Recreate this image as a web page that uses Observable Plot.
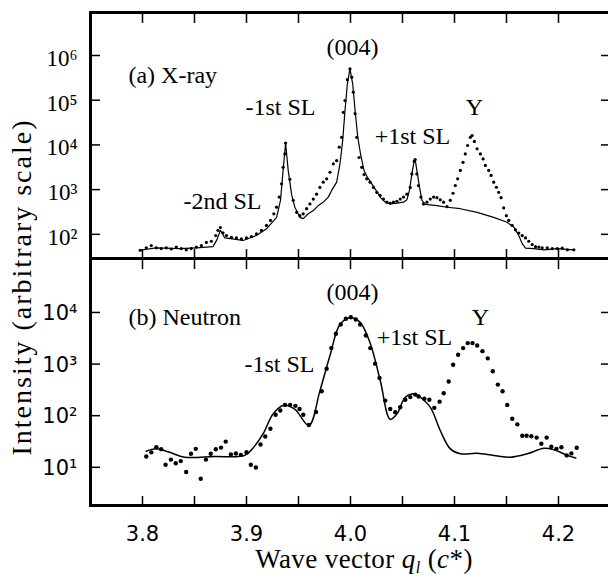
<!DOCTYPE html>
<html>
<head>
<meta charset="utf-8">
<script src="https://cdn.jsdelivr.net/npm/d3@7"></script>
<script src="https://cdn.jsdelivr.net/npm/@observablehq/plot@0.6"></script>
<style>
  html, body { margin: 0; padding: 0; background: #fff; overflow: hidden; }
  #wrap { position: relative; width: 608px; height: 582px; }
  #wrap svg { position: absolute; left: 0; top: 0; overflow: visible; }
  .ytitle { position: absolute; left: 22px; top: 287px; transform: translate(-50%, -50%) rotate(-90deg);
            font-family: "Liberation Serif", "Times New Roman", "DejaVu Serif", serif; font-size: 28px; line-height: 1;
            letter-spacing: 2px; white-space: nowrap; color: #000; }
  .xtitle { position: absolute; left: 364px; top: 546px; transform: translateX(-50%);
            font-family: "Liberation Serif", "Times New Roman", "DejaVu Serif", serif; font-size: 27px; line-height: 1;
            letter-spacing: 0.4px; white-space: nowrap; color: #000; }
  .xtitle sub { font-size: 16px; vertical-align: -5px; }
</style>
</head>
<body>
<div id="wrap"></div>
<script>
// ---------- data ----------
// (a) X-ray: measured points
const xrayQ = [3.7978,3.8036,3.8084,3.8132,3.818,3.8229,3.8277,3.8325,3.8373,3.8421,
  3.8469,3.8518,3.8566,3.8614,3.8662,3.8704,3.8726,3.8749,3.8774,3.8807,
  3.8855,3.8903,3.8951,3.9,3.9048,3.9096,3.9144,3.9192,3.9231,3.9263,
  3.9289,3.9314,3.9337,3.9352,3.9369,3.9376,3.9417,3.9449,3.9482,3.9513,
  3.9545,3.9578,3.961,3.9642,3.9674,3.9706,3.9738,3.9771,3.9803,3.9835,
  3.9867,3.9892,3.9915,3.9931,3.9947,3.997,3.9995,4.0012,4.0027,4.0044,
  4.006,4.0082,4.0108,4.013,4.0156,4.0188,4.022,4.0253,4.0285,4.0317,
  4.0349,4.0381,4.0413,4.0446,4.0478,4.051,4.0542,4.0574,4.059,4.0613,
  4.0622,4.0638,4.0654,4.0677,4.0702,4.0735,4.0767,4.0799,4.0831,4.0863,
  4.0895,4.0928,4.096,4.0986,4.1008,4.103,4.1056,4.1082,4.1104,4.1126,
  4.1152,4.1169,4.1191,4.1217,4.1249,4.1275,4.1297,4.1329,4.1352,4.1377,
  4.1403,4.1425,4.1448,4.1473,4.1499,4.1522,4.1554,4.1586,4.1618,4.1651,
  4.1683,4.1714,4.1747,4.1779,4.1811,4.1843,4.1892,4.194,4.1988,4.2036,
  4.2085,4.2148];
const xrayI = [44,50,56,50,48,50,47,52,48,45,
  48,52,56,66,70,94,123,142,108,94,
  86,83,79,83,89,102,122,158,205,288,
  404,680,1350,3160,6300,11000,1700,575,310,262,
  288,374,478,615,790,1120,1470,1740,2450,3770,
  4450,8900,14800,53700,98000,288000,501000,327000,151000,50000,
  14800,5230,3160,2170,1740,1470,1120,870,740,615,
  525,500,525,550,615,680,790,1120,2240,4330,
  4700,2240,1230,680,478,525,615,680,660,590,
  525,415,575,830,1230,1740,2690,4070,6300,9700,
  14800,16200,12000,8170,6300,4860,3470,2690,2080,1470,
  1130,870,660,390,262,205,158,126,107,94,
  83,70,59,53,52,50,50,48,48,49,
  45,45];
// (a) X-ray: calculated curve
const xrayFitQ = [3.7971,3.8132,3.8357,3.8518,3.8678,3.8716,3.8749,3.8791,3.8967,3.9096,
  3.9192,3.9289,3.9327,3.9352,3.9376,3.9401,3.9433,3.9465,3.9513,3.9545,
  3.9594,3.9642,3.969,3.9738,3.9786,3.9819,3.9867,3.9899,3.9925,3.9947,
  3.997,3.9995,4.0021,4.0044,4.007,4.0099,4.013,4.0162,4.0205,4.0246,
  4.0285,4.0333,4.0381,4.0446,4.051,4.0542,4.0567,4.059,4.0613,4.0622,
  4.0638,4.0664,4.0687,4.0719,4.0831,4.0928,4.1056,4.1217,4.1377,4.1506,
  4.157,4.1618,4.1651,4.1683,4.1763,4.1859,4.1988,4.2148];
const xrayFitI = [44,50,48,50,53,76,123,83,73,94,
  133,240,575,2690,11000,2690,790,404,240,224,
  288,340,440,525,680,960,1470,3800,12600,59000,
  233000,500000,233000,59000,14800,5800,2690,1900,1350,960,
  680,525,480,500,525,590,960,2240,4450,4700,
  2690,1120,575,470,440,404,374,310,240,186,
  145,94,62,49,48,45,48,45];

// (b) Neutron: measured points
const neutronQ = [3.8036,3.8085,3.8133,3.818,3.8222,3.8273,3.832,3.8368,3.842,3.8466,
  3.8512,3.856,3.861,3.8656,3.8705,3.8755,3.880,3.885,3.8898,3.8946,
  3.900,3.9042,3.909,3.9135,3.918,3.923,3.928,3.9325,3.937,3.942,
  3.947,3.951,3.9546,3.960,3.9668,3.9723,3.977,3.9816,3.986,3.9906,
  3.9955,4.0003,4.0051,4.0093,4.0148,4.019,4.0237,4.0279,4.0334,4.0382,
  4.043,4.0478,4.0527,4.0575,4.0623,4.0655,4.071,4.0758,4.0806,4.0857,
  4.0896,4.0944,4.0987,4.1035,4.1083,4.1127,4.1173,4.1218,4.1269,4.132,
  4.1368,4.1417,4.1462,4.1507,4.1555,4.1604,4.1652,4.1693,4.1739,4.179,
  4.1835,4.1886,4.1931,4.198,4.2028,4.2079,4.2124,4.2175];
const neutronI = [16.2,19.5,24.5,22.5,11.2,14.1,12.0,13.2,8.1,18.3,
  22.8,6.0,14.1,18.3,22.4,24.1,31.5,17.7,18.5,17.4,
  19.6,11.2,9.9,27.6,39.5,55.7,104,126,162,162,
  155,135,104,66,118,298,813,2040,3870,5850,
  7550,8100,7320,5850,3580,2040,1020,540,196,135,
  117,146,203,229,256,235,213,204,142,187,
  273,460,970,1520,2040,2550,2550,2290,1780,1290,
  725,400,298,162,87,68,41,41,40,37.6,
  28.6,37.6,25,22.8,24.5,17,18.6,24];
// (b) Neutron: calculated curve
const neutronFitQ = [3.8036,3.8132,3.826,3.8405,3.869,3.8984,3.907,3.916,3.9257,3.936,
  3.9466,3.960,3.9707,3.9803,3.990,4.0003,4.0093,4.019,4.0286,4.0382,
  4.045,4.0527,4.0623,4.0671,4.0768,4.0864,4.096,4.1057,4.1218,4.1378,
  4.1539,4.17,4.186,4.1957,4.2086,4.2166];
const neutronFitI = [20.5,22.9,19.5,15.7,16.2,17.0,24.6,44.7,109,159,
  133,64.6,309,1470,5900,7900,6430,2510,480,85,
  111,228,264,228,145,51,22.8,18.3,18.7,17,
  15.7,18.3,23.4,21.8,17,15.2];

// axes
const xDomain = [3.75, 4.25];
const xTickValues = [3.8, 3.85, 3.9, 3.95, 4.0, 4.05, 4.1, 4.15, 4.2];
const xLabelValues = [3.8, 3.9, 4.0, 4.1, 4.2];
const xLabelTexts = ["3.8", "3.9", "4.0", "4.1", "4.2"];
const xrayYDomain = [28.8, 9.16e6];
const xrayYTicks = [1e2, 1e3, 1e4, 1e5, 1e6];
const xrayYLabels = ["10²", "10³", "10⁴", "10⁵", "10⁶"];
const neutronYDomain = [1.82, 1.11e5];
const neutronYTicks = [1e1, 1e2, 1e3, 1e4];
const neutronYLabels = ["10¹", "10²", "10³", "10⁴"];

// annotations (anchored in data space)
const xrayPanelLabel = [{text: "(a) X-ray", q: 3.7865, I: 2.37e5}];
const xrayPeakLabels = [
  {text: "(004)", q: 4.0019, I: 1.05e6},
  {text: "-1st SL", q: 3.9327, I: 4.55e4},
  {text: "+1st SL", q: 4.0596, I: 1.07e4},
  {text: "Y", q: 4.1192, I: 4.55e4},
  {text: "-2nd SL", q: 3.8769, I: 378}
];
const neutronPanelLabel = [{text: "(b) Neutron", q: 3.7865, I: 5600}];
const neutronPeakLabels = [
  {text: "(004)", q: 4.0019, I: 1.71e4},
  {text: "-1st SL", q: 3.9317, I: 687},
  {text: "+1st SL", q: 4.0615, I: 2290},
  {text: "Y", q: 4.125, I: 5600}
];

// ---------- build tables ----------
const zip = (qs, is) => qs.map((q, i) => ({q, I: is[i]}));
const xray = zip(xrayQ, xrayI);
const xrayFit = zip(xrayFitQ, xrayFitI);
const neutron = zip(neutronQ, neutronI);
const neutronFit = zip(neutronFitQ, neutronFitI);

const SERIF = "'Liberation Serif', 'Times New Roman', 'DejaVu Serif', serif";
const SANS = "'DejaVu Sans', 'Liberation Sans', sans-serif";

const tickOpts = {fill: "none", label: null, strokeWidth: 1.5};

function frameAndTicks(yTicks) {
  return [
    Plot.axisY({ticks: yTicks, anchor: "left", tickSize: -10, ...tickOpts}),
    Plot.axisY({ticks: yTicks, anchor: "right", tickSize: -10, ...tickOpts}),
    Plot.axisX({ticks: xTickValues, anchor: "top", tickSize: -10, ...tickOpts}),
    Plot.axisX({ticks: xTickValues, anchor: "bottom", tickSize: -9, ...tickOpts}),
    Plot.frame({strokeWidth: 3})
  ];
}

const xrayPlot = Plot.plot({
  width: 608, height: 259,
  marginLeft: 90, marginRight: -2, marginTop: 12, marginBottom: 1,
  style: {background: "transparent", color: "black", overflow: "visible"},
  x: {domain: xDomain},
  y: {type: "log", domain: xrayYDomain},
  marks: [
    Plot.axisY({ticks: xrayYTicks, anchor: "left", tickSize: 0, tickPadding: 13, label: null,
      tickFormat: d => xrayYLabels[xrayYTicks.indexOf(d)], fontFamily: SERIF, fontSize: 23, dy: 3}),
    Plot.line(xrayFit, {x: "q", y: "I", stroke: "black", strokeWidth: 1.2}),
    Plot.dot(xray, {x: "q", y: "I", r: 1.6, fill: "black", stroke: "none"}),
    Plot.text(xrayPanelLabel, {x: "q", y: "I", text: "text", textAnchor: "start", lineAnchor: "bottom",
      fontFamily: SERIF, fontSize: 24}),
    Plot.text(xrayPeakLabels, {x: "q", y: "I", text: "text", textAnchor: "middle", lineAnchor: "bottom",
      fontFamily: SERIF, fontSize: 24}),
    ...frameAndTicks(xrayYTicks)
  ]
});

const neutronPlot = Plot.plot({
  width: 608, height: 582,
  marginLeft: 90, marginRight: -2, marginTop: 258, marginBottom: 77,
  style: {background: "transparent", color: "black", overflow: "visible"},
  x: {domain: xDomain},
  y: {type: "log", domain: neutronYDomain},
  marks: [
    Plot.axisY({ticks: neutronYTicks, anchor: "left", tickSize: 0, tickPadding: 13, label: null,
      tickFormat: d => neutronYLabels[neutronYTicks.indexOf(d)], fontFamily: SANS, fontSize: 21, dy: 1}),
    Plot.axisX({ticks: xLabelValues, anchor: "bottom", tickSize: 0, tickPadding: 21, label: null,
      tickFormat: d => xLabelTexts[xLabelValues.indexOf(d)], fontFamily: SANS, fontSize: 21}),
    Plot.line(neutronFit, {x: "q", y: "I", stroke: "black", strokeWidth: 1.5, curve: "catmull-rom"}),
    Plot.dot(neutron, {x: "q", y: "I", r: 2.2, fill: "black", stroke: "none"}),
    Plot.text(neutronPanelLabel, {x: "q", y: "I", text: "text", textAnchor: "start", lineAnchor: "bottom",
      fontFamily: SERIF, fontSize: 24}),
    Plot.text(neutronPeakLabels, {x: "q", y: "I", text: "text", textAnchor: "middle", lineAnchor: "bottom",
      fontFamily: SERIF, fontSize: 24}),
    ...frameAndTicks(neutronYTicks)
  ]
});

const wrap = document.getElementById("wrap");
wrap.appendChild(xrayPlot);
wrap.appendChild(neutronPlot);

const yTitle = document.createElement("div");
yTitle.className = "ytitle";
yTitle.textContent = "Intensity (arbitrary scale)";
wrap.appendChild(yTitle);

const xTitle = document.createElement("div");
xTitle.className = "xtitle";
xTitle.innerHTML = "Wave vector <i>q</i><sub><i>l</i></sub> (<i>c</i>*)";
wrap.appendChild(xTitle);
</script>
</body>
</html>
